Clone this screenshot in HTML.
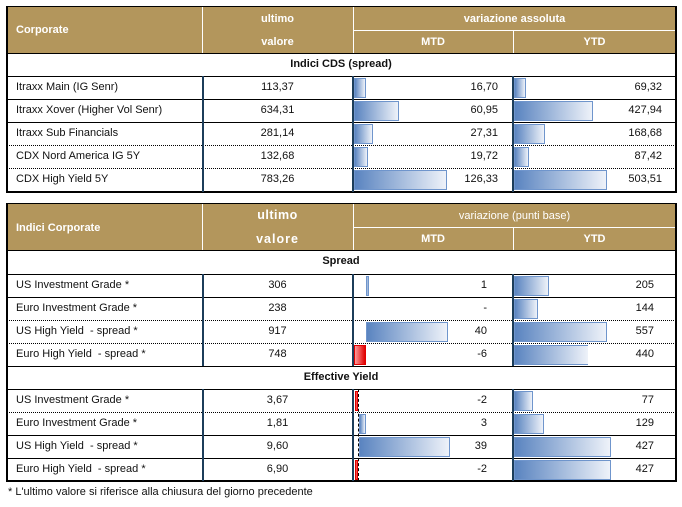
<!DOCTYPE html>
<html><head><meta charset="utf-8"><style>
body{margin:0;width:682px;height:507px;background:#fff;position:relative;overflow:hidden;font-family:"Liberation Sans","DejaVu Sans",sans-serif;font-size:11px;color:#111}
div{position:absolute;box-sizing:border-box}
.hd{background:#B3965C}
.w{color:#fff;font-weight:bold;text-align:center}
.hl{height:1px;background:#000}
.dl{height:0;border-top:1px dotted #000}
.vl{width:2px;background:#1c3d5a}
.bar{background:linear-gradient(to right,#5a84c0,#eef2f9);border:1px solid #6f95cc}
.red{background:linear-gradient(to right,#ff9999,#e00000);border:1px solid #e00000}
.t{white-space:nowrap;line-height:23px;height:23px}
.c{text-align:center}
.r{text-align:right}
</style></head><body>
<!-- TABLE 1 -->
<div class="hd" style="left:6px;top:7px;width:670px;height:46px"></div>
<div style="left:202px;top:7px;width:1px;height:46px;background:#fff"></div>
<div style="left:353px;top:7px;width:1px;height:46px;background:#fff"></div>
<div style="left:513px;top:30px;width:1px;height:23px;background:#fff"></div>
<div style="left:353px;top:30px;width:323px;height:1px;background:#fff"></div>
<div class="t w" style="left:16px;top:19px;text-align:left">Corporate</div>
<div class="t w" style="left:202px;top:8px;width:151px">ultimo</div>
<div class="t w" style="left:202px;top:31px;width:151px">valore</div>
<div class="t w" style="left:353px;top:8px;width:323px">variazione assoluta</div>
<div class="t w" style="left:353px;top:31px;width:160px">MTD</div>
<div class="t w" style="left:513px;top:31px;width:163px">YTD</div>
<div style="left:6px;top:6px;width:671px;height:187px;border:1px solid #000;border-width:1px 2px 2px 2px"></div>
<div class="hl" style="left:6px;top:53px;width:670px"></div>
<div class="t c" style="left:6px;top:53px;width:670px;font-weight:bold">Indici CDS (spread)</div>
<div class="hl" style="left:6px;top:76px;width:670px"></div>
<div class="hl" style="left:6px;top:99px;width:670px"></div>
<div class="hl" style="left:6px;top:122px;width:670px"></div>
<div class="dl" style="left:6px;top:145px;width:670px"></div>
<div class="dl" style="left:6px;top:168px;width:670px"></div>
<div class="vl" style="left:202px;top:76px;height:116px"></div>
<div class="vl" style="left:352px;top:76px;height:116px"></div>
<div class="vl" style="left:512px;top:76px;height:116px"></div>
<!-- rows t1 -->
<div class="bar" style="left:354px;top:78px;width:12px;height:20px"></div>
<div class="bar" style="left:354px;top:101px;width:45px;height:20px"></div>
<div class="bar" style="left:354px;top:124px;width:19px;height:20px"></div>
<div class="bar" style="left:354px;top:147px;width:14px;height:20px"></div>
<div class="bar" style="left:354px;top:170px;width:93px;height:20px"></div>
<div class="bar" style="left:514px;top:78px;width:12px;height:20px"></div>
<div class="bar" style="left:514px;top:101px;width:79px;height:20px"></div>
<div class="bar" style="left:514px;top:124px;width:31px;height:20px"></div>
<div class="bar" style="left:514px;top:147px;width:15px;height:20px"></div>
<div class="bar" style="left:514px;top:170px;width:93px;height:20px"></div>
<div class="t" style="left:16px;top:76px">Itraxx Main (IG Senr)</div>
<div class="t" style="left:16px;top:99px">Itraxx Xover (Higher Vol Senr)</div>
<div class="t" style="left:16px;top:122px">Itraxx Sub Financials</div>
<div class="t" style="left:16px;top:145px">CDX Nord America IG 5Y</div>
<div class="t" style="left:16px;top:168px">CDX High Yield 5Y</div>
<div class="t c" style="left:202px;top:76px;width:151px">113,37</div>
<div class="t c" style="left:202px;top:99px;width:151px">634,31</div>
<div class="t c" style="left:202px;top:122px;width:151px">281,14</div>
<div class="t c" style="left:202px;top:145px;width:151px">132,68</div>
<div class="t c" style="left:202px;top:168px;width:151px">783,26</div>
<div class="t r" style="left:400px;top:76px;width:98px">16,70</div>
<div class="t r" style="left:400px;top:99px;width:98px">60,95</div>
<div class="t r" style="left:400px;top:122px;width:98px">27,31</div>
<div class="t r" style="left:400px;top:145px;width:98px">19,72</div>
<div class="t r" style="left:400px;top:168px;width:98px">126,33</div>
<div class="t r" style="left:560px;top:76px;width:102px">69,32</div>
<div class="t r" style="left:560px;top:99px;width:102px">427,94</div>
<div class="t r" style="left:560px;top:122px;width:102px">168,68</div>
<div class="t r" style="left:560px;top:145px;width:102px">87,42</div>
<div class="t r" style="left:560px;top:168px;width:102px">503,51</div>

<!-- TABLE 2 -->
<div class="hd" style="left:6px;top:204px;width:670px;height:46px"></div>
<div style="left:202px;top:204px;width:1px;height:46px;background:#fff"></div>
<div style="left:353px;top:204px;width:1px;height:46px;background:#fff"></div>
<div style="left:513px;top:227px;width:1px;height:23px;background:#fff"></div>
<div style="left:353px;top:227px;width:323px;height:1px;background:#fff"></div>
<div class="t w" style="left:16px;top:217px;text-align:left">Indici Corporate</div>
<div class="t w" style="left:202px;top:204px;width:151px;font-size:12.5px;letter-spacing:0.5px">ultimo</div>
<div class="t w" style="left:202px;top:228px;width:151px;font-size:12.5px;letter-spacing:1px">valore</div>
<div class="t w" style="left:353px;top:205px;width:323px;font-weight:normal">variazione (punti base)</div>
<div class="t w" style="left:353px;top:228px;width:160px">MTD</div>
<div class="t w" style="left:513px;top:228px;width:163px">YTD</div>
<div style="left:6px;top:203px;width:671px;height:279px;border:1px solid #000;border-width:1px 2px 2px 2px"></div>
<div class="hl" style="left:6px;top:250px;width:670px"></div>
<div class="t c" style="left:6px;top:250px;width:670px;font-weight:bold">Spread</div>
<div class="hl" style="left:6px;top:274px;width:670px"></div>
<div class="hl" style="left:6px;top:297px;width:670px"></div>
<div class="dl" style="left:6px;top:320px;width:670px"></div>
<div class="dl" style="left:6px;top:343px;width:670px"></div>
<div class="hl" style="left:6px;top:366px;width:670px"></div>
<div class="t c" style="left:6px;top:366px;width:670px;font-weight:bold">Effective Yield</div>
<div class="hl" style="left:6px;top:389px;width:670px"></div>
<div class="dl" style="left:6px;top:412px;width:670px"></div>
<div class="hl" style="left:6px;top:435px;width:670px"></div>
<div class="hl" style="left:6px;top:458px;width:670px"></div>
<div class="vl" style="left:202px;top:274px;height:92px"></div>
<div class="vl" style="left:352px;top:274px;height:92px"></div>
<div class="vl" style="left:512px;top:274px;height:92px"></div>
<div class="vl" style="left:202px;top:389px;height:92px"></div>
<div class="vl" style="left:352px;top:389px;height:92px"></div>
<div class="vl" style="left:512px;top:389px;height:92px"></div>
<div style="left:358px;top:389px;width:0;height:92px;border-left:1px dashed #000"></div>
<!-- spread bars -->
<div class="bar" style="left:366px;top:276px;width:3px;height:20px"></div>
<div class="bar" style="left:366px;top:322px;width:82px;height:20px"></div>
<div class="red" style="left:354px;top:345px;width:12px;height:20px"></div>
<div class="bar" style="left:514px;top:276px;width:35px;height:20px"></div>
<div class="bar" style="left:514px;top:299px;width:24px;height:20px"></div>
<div class="bar" style="left:514px;top:322px;width:93px;height:20px"></div>
<div class="bar" style="left:514px;top:345px;width:74px;height:20px;border-right:none"></div>
<!-- eff yield bars -->
<div class="red" style="left:355px;top:391px;width:3px;height:20px"></div>
<div class="bar" style="left:359px;top:414px;width:7px;height:20px"></div>
<div class="bar" style="left:359px;top:437px;width:91px;height:20px"></div>
<div class="red" style="left:355px;top:460px;width:3px;height:20px"></div>
<div class="bar" style="left:514px;top:391px;width:19px;height:20px"></div>
<div class="bar" style="left:514px;top:414px;width:30px;height:20px"></div>
<div class="bar" style="left:514px;top:437px;width:97px;height:20px"></div>
<div class="bar" style="left:514px;top:460px;width:97px;height:20px"></div>
<!-- labels -->
<div class="t" style="left:16px;top:274px">US Investment Grade *</div>
<div class="t" style="left:16px;top:297px">Euro Investment Grade *</div>
<div class="t" style="left:16px;top:320px">US High Yield&nbsp; - spread *</div>
<div class="t" style="left:16px;top:343px">Euro High Yield&nbsp; - spread *</div>
<div class="t" style="left:16px;top:389px">US Investment Grade *</div>
<div class="t" style="left:16px;top:412px">Euro Investment Grade *</div>
<div class="t" style="left:16px;top:435px">US High Yield&nbsp; - spread *</div>
<div class="t" style="left:16px;top:458px">Euro High Yield&nbsp; - spread *</div>
<div class="t c" style="left:202px;top:274px;width:151px">306</div>
<div class="t c" style="left:202px;top:297px;width:151px">238</div>
<div class="t c" style="left:202px;top:320px;width:151px">917</div>
<div class="t c" style="left:202px;top:343px;width:151px">748</div>
<div class="t c" style="left:202px;top:389px;width:151px">3,67</div>
<div class="t c" style="left:202px;top:412px;width:151px">1,81</div>
<div class="t c" style="left:202px;top:435px;width:151px">9,60</div>
<div class="t c" style="left:202px;top:458px;width:151px">6,90</div>
<div class="t r" style="left:400px;top:274px;width:87px">1</div>
<div class="t r" style="left:400px;top:297px;width:87px">-</div>
<div class="t r" style="left:400px;top:320px;width:87px">40</div>
<div class="t r" style="left:400px;top:343px;width:87px">-6</div>
<div class="t r" style="left:400px;top:389px;width:87px">-2</div>
<div class="t r" style="left:400px;top:412px;width:87px">3</div>
<div class="t r" style="left:400px;top:435px;width:87px">39</div>
<div class="t r" style="left:400px;top:458px;width:87px">-2</div>
<div class="t r" style="left:560px;top:274px;width:94px">205</div>
<div class="t r" style="left:560px;top:297px;width:94px">144</div>
<div class="t r" style="left:560px;top:320px;width:94px">557</div>
<div class="t r" style="left:560px;top:343px;width:94px">440</div>
<div class="t r" style="left:560px;top:389px;width:94px">77</div>
<div class="t r" style="left:560px;top:412px;width:94px">129</div>
<div class="t r" style="left:560px;top:435px;width:94px">427</div>
<div class="t r" style="left:560px;top:458px;width:94px">427</div>
<div class="t" style="left:8px;top:481px">* L'ultimo valore si riferisce alla chiusura del giorno precedente</div>
</body></html>
